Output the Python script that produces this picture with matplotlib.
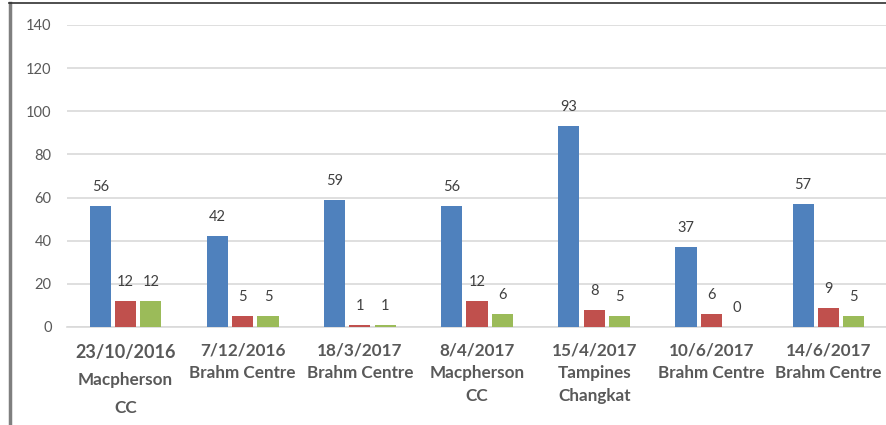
import matplotlib.pyplot as plt
from matplotlib.lines import Line2D
import numpy as np

plt.rcParams['font.family'] = ['Lato', 'DejaVu Sans']

dates = ['23/10/2016', '7/12/2016', '18/3/2017', '8/4/2017', '15/4/2017', '10/6/2017', '14/6/2017']
venues = ['Macpherson\nCC', 'Brahm Centre', 'Brahm Centre', 'Macpherson\nCC',
          'Tampines\nChangkat', 'Brahm Centre', 'Brahm Centre']
blue_vals = [56, 42, 59, 56, 93, 37, 57]
red_vals = [12, 5, 1, 12, 8, 6, 9]
green_vals = [12, 5, 1, 6, 5, 0, 5]

colors = ['#4F81BD', '#C0504D', '#9BBB59']
txt = '#595959'

fig = plt.figure(figsize=(8.86, 4.25), dpi=100)
ax = fig.add_axes([67/886, 98/425, 820/886, 302/425])

x = np.arange(len(dates))
w = 0.18
off = 0.216
for k, vals in enumerate([blue_vals, red_vals, green_vals]):
    pos = x + (k - 1) * off
    ax.bar(pos, vals, width=w, color=colors[k], zorder=3)
    for p, v in zip(pos, vals):
        ax.annotate(str(v), (p, v), xytext=(0, 12), textcoords='offset pixels',
                    ha='center', va='bottom', fontsize=10.5, color='#404040')

ax.set_xlim(-0.5, len(dates) - 0.5)
ax.set_ylim(0, 140)
ax.set_yticks(range(0, 141, 20))
ax.yaxis.grid(True, color='#D9D9D9', lw=1.2, zorder=0)
ax.tick_params(axis='y', length=0, pad=11, labelsize=10.5, labelcolor=txt)
ax.set_xticks([])
for s in ['top', 'right', 'left']:
    ax.spines[s].set_visible(False)
ax.spines['bottom'].set_color('#D9D9D9')
ax.spines['bottom'].set_linewidth(1.2)

for i, (d, v) in enumerate(zip(dates, venues)):
    if i == 0:
        ax.annotate(d, (i, 0), xycoords=('data', 'axes fraction'), xytext=(0, -17),
                    textcoords='offset pixels', ha='center', va='top',
                    fontsize=13, fontweight='bold', color=txt)
        ax.annotate(v, (i, 0), xycoords=('data', 'axes fraction'), xytext=(0, -45),
                    textcoords='offset pixels', ha='center', va='top',
                    fontsize=12.3, fontweight='bold', color=txt, linespacing=1.95)
    else:
        ax.annotate(d, (i, 0), xycoords=('data', 'axes fraction'), xytext=(0, -16),
                    textcoords='offset pixels', ha='center', va='top',
                    fontsize=12.3, fontweight='bold', color=txt)
        ax.annotate(v, (i, 0), xycoords=('data', 'axes fraction'), xytext=(0, -38),
                    textcoords='offset pixels', ha='center', va='top',
                    fontsize=12.3, fontweight='bold', color=txt, linespacing=1.55)

# frame edges of the original screenshot
fig.add_artist(Line2D([10/886, 10/886], [0, 422/425], color='#7F7F7F', lw=2.5))
fig.add_artist(Line2D([9/886, 1], [422/425, 422/425], color='#303030', lw=1.2))

fig.savefig('out.png', dpi=100)
